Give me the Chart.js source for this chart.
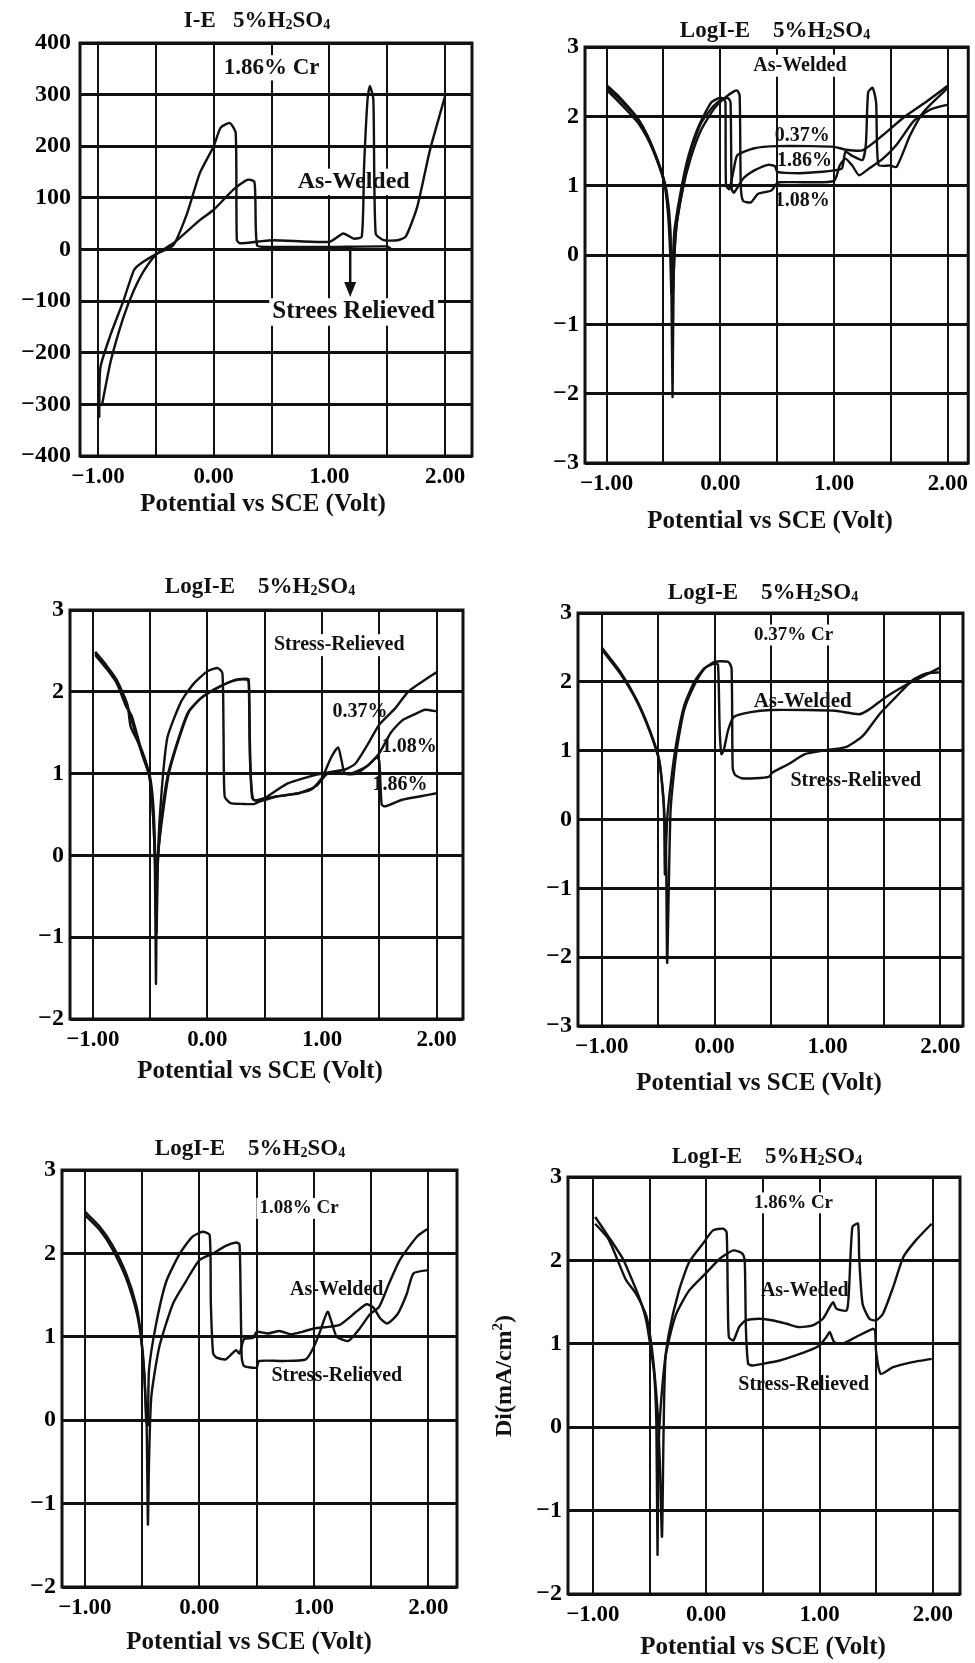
<!DOCTYPE html>
<html>
<head>
<meta charset="utf-8">
<title>LogI-E 5%H2SO4</title>
<script src="https://cdn.jsdelivr.net/npm/chart.js@4.4.1/dist/chart.umd.min.js"></script>
<style>
  body { margin: 0; background: #fff; }
  #page { position: relative; width: 975px; height: 1663px; overflow: hidden; background: #fff; }
  .panel { position: absolute; }
  .panel canvas { display: block; }
</style>
</head>
<body>
<div id="page">
  <div class="panel" id="p1"><canvas></canvas></div>
  <div class="panel" id="p2"><canvas></canvas></div>
  <div class="panel" id="p3"><canvas></canvas></div>
  <div class="panel" id="p4"><canvas></canvas></div>
  <div class="panel" id="p5"><canvas></canvas></div>
  <div class="panel" id="p6"><canvas></canvas></div>
</div>
<script>
// ---- axes ----
const xTickValues = [-1, -0.5, 0, 0.5, 1, 1.5, 2];
const xTickLabels = ['\u22121.00', '', '0.00', '', '1.00', '', '2.00'];
const ieTicks = [-400, -300, -200, -100, 0, 100, 200, 300, 400];
const logTicksTo3 = [-3, -2, -1, 0, 1, 2, 3];
const logTicksTo2 = [-2, -1, 0, 1, 2, 3];

// ---- panel 1 : I-E, 1.86% Cr ----
const p1WeldX = [-0.99, -0.98, -0.89, -0.78, -0.69, -0.63, -0.49, -0.35, -0.23, -0.12, 0.0, 0.06, 0.14, 0.19, 0.2, 0.23, 0.5, 1.0, 1.12, 1.21, 1.28, 1.3, 1.33, 1.35, 1.38, 1.4, 1.47, 1.59, 1.66, 1.76, 1.87, 2.0];
const p1WeldY = [-326, -229, -164, -99, -40, -27, -8, 8, 70, 148, 200, 236, 245, 226, 18, 12, 18, 15, 31, 21, 25, 161, 291, 317, 291, 31, 18, 18, 25, 83, 193, 297];
const p1ReliefX = [-0.965, -0.89, -0.78, -0.69, -0.6, -0.49, -0.35, -0.12, 0.0, 0.17, 0.29, 0.35, 0.36, 0.375, 0.46, 1.0, 1.5, 1.53];
const p1ReliefY = [-300, -216, -131, -79, -40, -8, 12, 57, 77, 116, 135, 132, 96, 8, 5, 5, 6, 2];

// ---- panel 2 : As-Welded ----
const p2Cr037X = [-1.0, -0.9, -0.8, -0.73, -0.65, -0.58, -0.52, -0.49, -0.46, -0.44, -0.43, -0.41, -0.4, -0.34, -0.28, -0.19, -0.08, 0.0, 0.03, 0.045, 0.05, 0.08, 0.12, 0.15, 0.3, 0.5, 0.8, 1.0, 1.1, 1.25, 1.43, 1.61, 1.82, 2.0];
const p2Cr037Y = [2.45, 2.3, 2.12, 1.98, 1.75, 1.48, 1.2, 1.02, 0.6, 0.0, -0.55, 0.2, 0.41, 0.99, 1.43, 1.86, 2.2, 2.27, 2.25, 2.2, 1.0, 0.95, 1.25, 1.44, 1.54, 1.57, 1.57, 1.56, 1.52, 1.51, 1.73, 1.98, 2.22, 2.44];
const p2Cr186X = [-1.0, -0.9, -0.8, -0.72, -0.64, -0.57, -0.51, -0.48, -0.45, -0.43, -0.42, -0.4, -0.38, -0.32, -0.26, -0.17, -0.06, 0.02, 0.07, 0.09, 0.1, 0.12, 0.2, 0.3, 0.42, 0.48, 0.5, 0.7, 0.9, 1.0, 1.07, 1.1, 1.16, 1.25, 1.28, 1.3, 1.34, 1.37, 1.39, 1.49, 1.55, 1.67, 1.79, 2.0];
const p2Cr186Y = [2.38, 2.22, 2.05, 1.9, 1.68, 1.42, 1.15, 0.95, 0.5, -0.1, -0.6, 0.1, 0.5, 1.05, 1.5, 1.9, 2.15, 2.25, 2.26, 2.2, 0.95, 0.9, 1.1, 1.22, 1.3, 1.28, 1.2, 1.18, 1.2, 1.22, 1.25, 1.49, 1.43, 1.37, 1.6, 2.35, 2.41, 2.2, 1.3, 1.29, 1.27, 1.73, 2.07, 2.41];
const p2Cr108X = [-1.0, -0.9, -0.8, -0.72, -0.64, -0.57, -0.51, -0.47, -0.44, -0.43, -0.42, -0.41, -0.39, -0.33, -0.26, -0.17, -0.05, 0.05, 0.12, 0.15, 0.17, 0.18, 0.2, 0.27, 0.33, 0.45, 0.49, 0.52, 0.75, 1.0, 1.05, 1.1, 1.16, 1.22, 1.31, 1.43, 1.55, 1.7, 1.85, 2.0];
const p2Cr108Y = [2.42, 2.27, 2.1, 1.95, 1.72, 1.45, 1.17, 0.9, 0.4, -0.5, -2.05, -0.3, 0.35, 0.95, 1.4, 1.8, 2.12, 2.28, 2.36, 2.37, 2.3, 1.0, 0.78, 0.76, 0.88, 0.93, 1.02, 1.05, 1.05, 1.07, 1.29, 1.39, 1.29, 1.15, 1.25, 1.39, 1.59, 1.93, 2.1, 2.17];

// ---- panel 3 : Stress-Relieved ----
const p3Cr037X = [-0.98, -0.88, -0.79, -0.7, -0.62, -0.55, -0.5, -0.47, -0.455, -0.445, -0.43, -0.4, -0.35, -0.23, -0.12, 0.0, 0.09, 0.13, 0.14, 0.15, 0.2, 0.3, 0.41, 0.5, 0.7, 0.88, 1.0, 1.2, 1.29, 1.4, 1.5, 1.64, 1.75, 1.87, 2.0];
const p3Cr037Y = [2.49, 2.32, 2.14, 1.83, 1.45, 1.15, 0.95, 0.55, -0.1, -0.95, 0.1, 0.79, 1.44, 1.88, 2.1, 2.25, 2.29, 2.23, 1.5, 0.72, 0.64, 0.63, 0.63, 0.7, 0.88, 0.96, 1.0, 1.05, 1.12, 1.36, 1.6, 1.8, 2.0, 2.12, 2.24];
const p3Cr108X = [-0.98, -0.88, -0.79, -0.7, -0.67, -0.58, -0.51, -0.48, -0.46, -0.45, -0.44, -0.41, -0.35, -0.26, -0.17, -0.06, 0.09, 0.23, 0.33, 0.36, 0.37, 0.39, 0.45, 0.6, 0.8, 0.95, 1.05, 1.25, 1.4, 1.5, 1.6, 1.7, 1.8, 1.9, 2.0];
const p3Cr108Y = [2.47, 2.3, 2.12, 1.85, 1.57, 1.31, 1.0, 0.61, 0.0, -1.57, -0.3, 0.35, 0.96, 1.4, 1.75, 1.92, 2.05, 2.14, 2.16, 2.15, 1.4, 0.7, 0.66, 0.72, 0.76, 0.85, 1.0, 1.0, 1.1, 1.25, 1.5, 1.65, 1.72, 1.78, 1.76];
const p3Cr186X = [-0.98, -0.88, -0.79, -0.71, -0.66, -0.58, -0.51, -0.48, -0.46, -0.45, -0.44, -0.4, -0.34, -0.25, -0.16, -0.05, 0.1, 0.24, 0.34, 0.36, 0.37, 0.4, 0.5, 0.7, 0.9, 1.0, 1.08, 1.14, 1.17, 1.2, 1.3, 1.4, 1.48, 1.5, 1.52, 1.55, 1.7, 1.85, 2.0];
const p3Cr186Y = [2.45, 2.28, 2.1, 1.82, 1.7, 1.3, 0.98, 0.6, 0.0, -0.55, -0.1, 0.4, 0.98, 1.42, 1.76, 1.93, 2.06, 2.14, 2.15, 2.12, 1.2, 0.68, 0.7, 0.74, 0.8, 0.95, 1.2, 1.32, 1.16, 1.0, 1.0, 1.1, 1.2, 1.15, 0.62, 0.6, 0.68, 0.72, 0.76];

// ---- panel 4 : 0.37% Cr ----
const p4WeldX = [-1.0, -0.84, -0.69, -0.57, -0.49, -0.45, -0.44, -0.42, -0.39, -0.34, -0.27, -0.18, -0.09, 0.0, 0.03, 0.045, 0.06, 0.08, 0.12, 0.17, 0.32, 0.5, 0.8, 1.07, 1.28, 1.37, 1.51, 1.69, 1.81, 2.0];
const p4WeldY = [2.5, 2.16, 1.74, 1.28, 0.86, 0.23, -0.8, 0.0, 0.5, 1.1, 1.65, 2.0, 2.2, 2.27, 2.25, 1.3, 0.95, 1.0, 1.3, 1.49, 1.56, 1.59, 1.59, 1.58, 1.53, 1.6, 1.77, 1.95, 2.05, 2.21];
const p4ReliefX = [-1.0, -0.84, -0.69, -0.57, -0.49, -0.45, -0.43, -0.42, -0.39, -0.34, -0.27, -0.18, -0.09, 0.0, 0.12, 0.15, 0.16, 0.18, 0.24, 0.36, 0.48, 0.51, 0.66, 0.8, 0.96, 1.16, 1.31, 1.46, 1.6, 1.75, 1.87, 2.0];
const p4ReliefY = [2.47, 2.13, 1.72, 1.26, 0.84, 0.2, -0.5, -2.08, 0.13, 0.96, 1.59, 1.95, 2.19, 2.29, 2.29, 2.2, 0.75, 0.65, 0.6, 0.6, 0.62, 0.68, 0.81, 0.95, 1.0, 1.05, 1.21, 1.53, 1.77, 2.02, 2.12, 2.14];

// ---- panel 5 : 1.08% Cr ----
const p5WeldX = [-1.0, -0.87, -0.76, -0.64, -0.55, -0.51, -0.48, -0.465, -0.45, -0.44, -0.38, -0.29, -0.17, -0.06, 0.03, 0.09, 0.1, 0.12, 0.15, 0.23, 0.32, 0.35, 0.39, 0.47, 0.5, 0.6, 0.7, 0.8, 0.9, 1.0, 1.22, 1.37, 1.46, 1.52, 1.58, 1.64, 1.73, 1.81, 1.87, 2.0];
const p5WeldY = [2.5, 2.32, 2.1, 1.76, 1.37, 1.02, 0.55, 0.0, -0.06, 0.6, 1.14, 1.66, 2.0, 2.2, 2.26, 2.22, 1.4, 0.8, 0.75, 0.73, 0.84, 0.8, 0.97, 0.99, 1.06, 1.04, 1.07, 1.03, 1.06, 1.1, 1.14, 1.3, 1.39, 1.35, 1.22, 1.16, 1.27, 1.51, 1.76, 1.8];
const p5ReliefX = [-1.0, -0.87, -0.76, -0.64, -0.55, -0.51, -0.48, -0.46, -0.45, -0.44, -0.42, -0.35, -0.23, -0.12, 0.0, 0.12, 0.23, 0.32, 0.35, 0.36, 0.37, 0.39, 0.5, 0.52, 0.73, 0.93, 1.0, 1.05, 1.12, 1.16, 1.2, 1.3, 1.4, 1.49, 1.57, 1.66, 1.75, 1.9, 2.0];
const p5ReliefY = [2.46, 2.28, 2.05, 1.7, 1.3, 0.98, 0.5, -0.1, -1.25, -0.5, 0.28, 0.88, 1.4, 1.66, 1.92, 2.0, 2.09, 2.13, 2.11, 1.5, 0.75, 0.65, 0.63, 0.71, 0.71, 0.73, 0.88, 1.05, 1.3, 1.15, 1.0, 0.95, 1.1, 1.27, 1.36, 1.65, 1.92, 2.2, 2.3];

// ---- panel 6 : 1.86% Cr ----
const p6WeldX = [-0.98, -0.86, -0.74, -0.68, -0.59, -0.53, -0.49, -0.46, -0.44, -0.43, -0.42, -0.38, -0.33, -0.24, -0.15, -0.03, 0.06, 0.15, 0.18, 0.19, 0.2, 0.24, 0.29, 0.35, 0.47, 0.59, 0.71, 0.82, 0.94, 1.03, 1.09, 1.12, 1.15, 1.24, 1.26, 1.29, 1.34, 1.35, 1.38, 1.44, 1.5, 1.56, 1.65, 1.74, 1.85, 1.99];
const p6WeldY = [2.52, 2.28, 2.03, 1.85, 1.55, 1.28, 0.95, 0.65, 0.04, -1.53, -0.2, 0.6, 1.12, 1.64, 1.98, 2.2, 2.36, 2.38, 2.34, 1.6, 1.08, 1.04, 1.2, 1.28, 1.3, 1.28, 1.24, 1.2, 1.22, 1.3, 1.44, 1.5, 1.42, 1.4, 1.64, 2.4, 2.44, 2.04, 1.48, 1.3, 1.28, 1.36, 1.68, 2.04, 2.24, 2.44];
const p6ReliefX = [-0.98, -0.86, -0.71, -0.62, -0.53, -0.49, -0.46, -0.43, -0.41, -0.39, -0.36, -0.27, -0.15, 0.0, 0.12, 0.24, 0.32, 0.34, 0.35, 0.37, 0.41, 0.5, 0.65, 0.79, 0.91, 1.0, 1.06, 1.09, 1.13, 1.2, 1.32, 1.47, 1.49, 1.5, 1.54, 1.65, 1.82, 1.99];
const p6ReliefY = [2.44, 2.25, 1.77, 1.6, 1.34, 1.05, 0.7, 0.2, -0.4, -1.31, 0.82, 1.34, 1.64, 1.85, 2.02, 2.12, 2.08, 2.0, 1.2, 0.76, 0.74, 0.76, 0.8, 0.86, 0.92, 0.98, 1.08, 1.14, 1.02, 1.0, 1.08, 1.18, 1.16, 0.9, 0.64, 0.72, 0.78, 0.82];

const SERIF = '"Liberation Serif", "DejaVu Serif", serif';
const INK = '#111';

function pts(xs, ys) {
    return xs.map((x, i) => ({ x: x, y: ys[i] }));
}

function font(size) {
    return 'bold ' + size + 'px ' + SERIF;
}

// text parts: [text, mode] with mode 0 normal, 1 subscript, 2 superscript; centred on (cx, cy)
function drawRich(ctx, parts, cx, cy, size) {
    let total = 0;
    const widths = parts.map(([t, mode]) => {
        ctx.font = font(mode ? Math.round(size * 0.62) : size);
        const w = ctx.measureText(t).width;
        total += w;
        return w;
    });
    let x = cx - total / 2;
    ctx.textAlign = 'left';
    ctx.textBaseline = 'alphabetic';
    parts.forEach(([t, mode], i) => {
        ctx.font = font(mode ? Math.round(size * 0.62) : size);
        let shift = 0;
        if (mode === 1) shift = size * 0.1;
        if (mode === 2) shift = -size * 0.38;
        ctx.fillText(t, x, cy + size * 0.34 + shift);
        x += widths[i];
    });
}

function makeDecor(p) {
    return {
        id: 'decor',
        beforeDatasetsDraw(chart) {
            const ctx = chart.ctx, sx = chart.scales.x, sy = chart.scales.y;
            ctx.save();
            (p.labels || []).filter(l => l.bg).forEach(l => {
                ctx.font = font(l.size);
                const w = ctx.measureText(l.text).width;
                const px = sx.getPixelForValue(l.x), py = sy.getPixelForValue(l.y);
                ctx.fillStyle = '#fff';
                ctx.fillRect(px - w / 2 - 3, py - l.size * 0.55, w + 6, l.size * 1.1);
                ctx.fillStyle = INK;
                ctx.textAlign = 'center';
                ctx.textBaseline = 'middle';
                ctx.fillText(l.text, px, py);
            });
            ctx.restore();
        },
        afterDraw(chart) {
            const ctx = chart.ctx, a = chart.chartArea, sx = chart.scales.x, sy = chart.scales.y;
            const ox = p.box[0], oy = p.box[1];
            ctx.save();
            ctx.strokeStyle = INK;
            ctx.lineWidth = 3;
            ctx.strokeRect(a.left, a.top, a.right - a.left, a.bottom - a.top);
            ctx.fillStyle = INK;
            drawRich(ctx, p.title, p.titlePos[0] - ox, p.titlePos[1] - oy, 23);
            ctx.font = font(25);
            ctx.textAlign = 'center';
            ctx.textBaseline = 'middle';
            ctx.fillText('Potential vs SCE (Volt)', p.xTitlePos[0] - ox, p.xTitlePos[1] - oy);
            (p.labels || []).filter(l => !l.bg).forEach(l => {
                ctx.font = font(l.size);
                ctx.fillText(l.text, sx.getPixelForValue(l.x), sy.getPixelForValue(l.y));
            });
            if (p.arrow) {
                const x = sx.getPixelForValue(p.arrow.x);
                const y0 = sy.getPixelForValue(p.arrow.y0), y1 = sy.getPixelForValue(p.arrow.y1);
                ctx.lineWidth = 2.5;
                ctx.beginPath();
                ctx.moveTo(x, y0);
                ctx.lineTo(x, y1 - 10);
                ctx.stroke();
                ctx.beginPath();
                ctx.moveTo(x - 6, y1 - 15);
                ctx.lineTo(x, y1);
                ctx.lineTo(x + 6, y1 - 15);
                ctx.closePath();
                ctx.fill();
            }
            if (p.yTitle) {
                ctx.translate(p.yTitle.x - ox, p.yTitle.y - oy);
                ctx.rotate(-Math.PI / 2);
                drawRich(ctx, [['Di(mA/cm', 0], ['2', 2], [')', 0]], 0, 0, 24);
            }
            ctx.restore();
        }
    };
}

function makePanel(p) {
    const wrap = document.getElementById(p.id);
    const [bx, by, bw, bh] = p.box;
    wrap.style.left = bx + 'px';
    wrap.style.top = by + 'px';
    const canvas = wrap.querySelector('canvas');
    canvas.width = bw;
    canvas.height = bh;
    canvas.style.width = bw + 'px';
    canvas.style.height = bh + 'px';
    const L = p.plot[0] - bx, T = p.plot[1] - by;
    const R = bx + bw - p.plot[2], B = by + bh - p.plot[3];

    new Chart(canvas, {
        type: 'scatter',
        data: {
            datasets: p.series.map(s => ({
                data: pts(s[0], s[1]),
                showLine: true,
                borderColor: INK,
                borderWidth: 2.4,
                pointRadius: 0,
                tension: 0.2,
                fill: false
            }))
        },
        options: {
            responsive: false,
            animation: false,
            layout: { padding: { top: T, right: R, left: 0, bottom: 0 } },
            plugins: { legend: { display: false }, tooltip: { enabled: false } },
            scales: {
                x: {
                    type: 'linear',
                    min: p.xMin,
                    max: p.xMax,
                    afterBuildTicks: s => { s.ticks = xTickValues.map(v => ({ value: v })); },
                    afterFit: s => { s.height = B; },
                    grid: { color: INK, lineWidth: 2, drawTicks: false },
                    border: { display: false },
                    ticks: {
                        autoSkip: false,
                        maxRotation: 0,
                        padding: 7,
                        color: '#000',
                        font: { family: SERIF, size: 23, weight: 'bold' },
                        callback: v => xTickLabels[xTickValues.indexOf(v)] || ''
                    }
                },
                y: {
                    type: 'linear',
                    min: p.yTicks[0],
                    max: p.yTicks[p.yTicks.length - 1],
                    afterBuildTicks: s => { s.ticks = p.yTicks.map(v => ({ value: v })); },
                    afterFit: s => { s.width = L; },
                    grid: { color: INK, lineWidth: 3, drawTicks: false },
                    border: { display: false },
                    ticks: {
                        padding: p.yPad,
                        color: '#000',
                        font: { family: SERIF, size: 24, weight: 'bold' },
                        callback: v => v < 0 ? '\u2212' + Math.abs(v) : String(v)
                    }
                }
            }
        },
        plugins: [makeDecor(p)]
    });
}

const logTitle = [['LogI-E    5%H', 0], ['2', 1], ['SO', 0], ['4', 1]];

const panels = [
    {
        id: 'p1', box: [0, 0, 487, 540], plot: [80, 43, 472, 456],
        xMin: -1.156, xMax: 2.233, yTicks: ieTicks, yPad: 9,
        series: [[p1WeldX, p1WeldY], [p1ReliefX, p1ReliefY]],
        title: [['I-E   5%H', 0], ['2', 1], ['SO', 0], ['4', 1]],
        titlePos: [257, 19], xTitlePos: [263, 505],
        labels: [
            { text: '1.86% Cr', x: 0.5, y: 352, size: 23, bg: true },
            { text: 'As-Welded', x: 1.21, y: 131, size: 24, bg: true },
            { text: 'Strees Relieved', x: 1.21, y: -121, size: 25, bg: true }
        ],
        arrow: { x: 1.18, y0: 5, y1: -92 }
    },
    {
        id: 'p2', box: [487, 0, 488, 540], plot: [585, 47, 973, 463],
        xMin: -1.19, xMax: 2.18, yTicks: logTicksTo3, yPad: 6,
        series: [[p2Cr037X, p2Cr037Y], [p2Cr186X, p2Cr186Y], [p2Cr108X, p2Cr108Y]],
        title: logTitle, titlePos: [775, 29], xTitlePos: [770, 522],
        labels: [
            { text: 'As-Welded', x: 0.7, y: 2.73, size: 20, bg: true },
            { text: '0.37%', x: 0.72, y: 1.72, size: 20 },
            { text: '1.86%', x: 0.74, y: 1.36, size: 20 },
            { text: '1.08%', x: 0.72, y: 0.78, size: 20 }
        ]
    },
    {
        id: 'p3', box: [0, 540, 487, 550], plot: [70, 610, 463, 1019],
        xMin: -1.2, xMax: 2.23, yTicks: logTicksTo2, yPad: 6,
        series: [[p3Cr037X, p3Cr037Y], [p3Cr108X, p3Cr108Y], [p3Cr186X, p3Cr186Y]],
        title: logTitle, titlePos: [260, 585], xTitlePos: [260, 1072],
        labels: [
            { text: 'Stress-Relieved', x: 1.15, y: 2.57, size: 20, bg: true },
            { text: '0.37%', x: 1.33, y: 1.75, size: 20 },
            { text: '1.08%', x: 1.76, y: 1.33, size: 20 },
            { text: '1.86%', x: 1.68, y: 0.86, size: 20 }
        ]
    },
    {
        id: 'p4', box: [487, 540, 488, 560], plot: [578, 613, 963, 1026],
        xMin: -1.21, xMax: 2.2, yTicks: logTicksTo3, yPad: 6,
        series: [[p4WeldX, p4WeldY], [p4ReliefX, p4ReliefY]],
        title: logTitle, titlePos: [763, 591], xTitlePos: [759, 1084],
        labels: [
            { text: '0.37% Cr', x: 0.7, y: 2.68, size: 19, bg: true },
            { text: 'As-Welded', x: 0.78, y: 1.71, size: 21 },
            { text: 'Stress-Relieved', x: 1.25, y: 0.56, size: 20 }
        ]
    },
    {
        id: 'p5', box: [0, 1100, 487, 563], plot: [62, 1170, 457, 1587],
        xMin: -1.2, xMax: 2.25, yTicks: logTicksTo2, yPad: 6,
        series: [[p5WeldX, p5WeldY], [p5ReliefX, p5ReliefY]],
        title: logTitle, titlePos: [250, 1147], xTitlePos: [249, 1643],
        labels: [
            { text: '1.08% Cr', x: 0.87, y: 2.54, size: 19, bg: true },
            { text: 'As-Welded', x: 1.2, y: 1.56, size: 20 },
            { text: 'Stress-Relieved', x: 1.2, y: 0.53, size: 20 }
        ]
    },
    {
        id: 'p6', box: [487, 1100, 488, 563], plot: [568, 1177, 960, 1594],
        xMin: -1.22, xMax: 2.24, yTicks: logTicksTo2, yPad: 6,
        series: [[p6WeldX, p6WeldY], [p6ReliefX, p6ReliefY]],
        title: logTitle, titlePos: [767, 1155], xTitlePos: [763, 1648],
        labels: [
            { text: '1.86% Cr', x: 0.77, y: 2.69, size: 19, bg: true },
            { text: 'As-Weded', x: 0.87, y: 1.64, size: 20 },
            { text: 'Stress-Relieved', x: 0.86, y: 0.51, size: 20 }
        ],
        yTitle: { x: 503, y: 1376 }
    }
];

panels.forEach(makePanel);
</script>
</body>
</html>
